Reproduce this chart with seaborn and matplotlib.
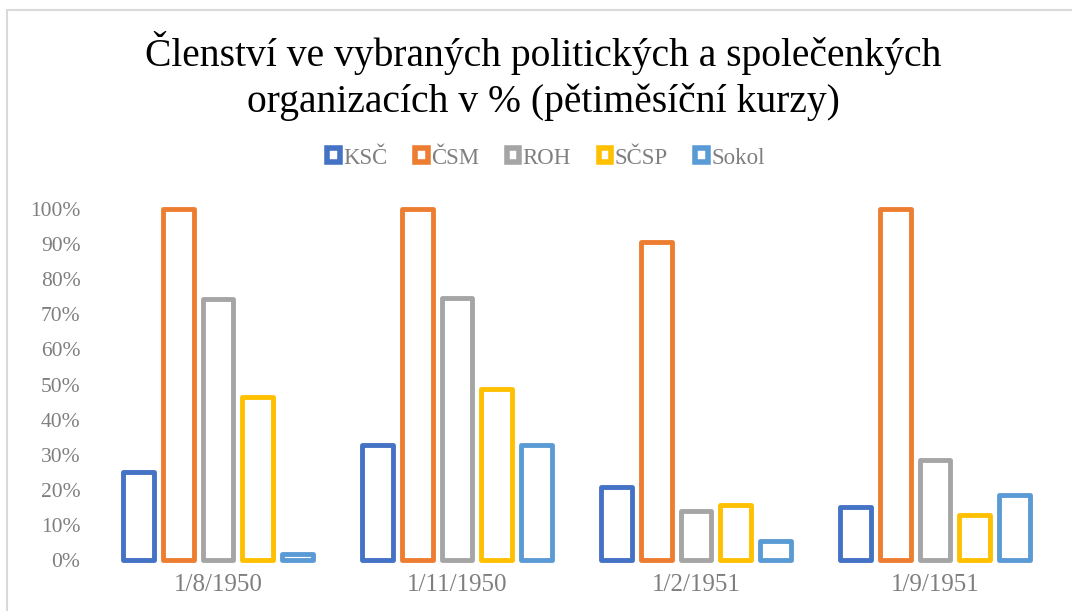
import matplotlib
matplotlib.use("Agg")
import matplotlib.pyplot as plt
import matplotlib.patches as mpatches
import seaborn as sns
import pandas as pd
from matplotlib.ticker import PercentFormatter

dates = ["1/8/1950", "1/11/1950", "1/2/1951", "1/9/1951"]
organizations = ["KSČ", "ČSM", "ROH", "SČSP", "Sokol"]
ksc = [0.25, 0.328, 0.208, 0.151]
csm = [1.00, 1.00, 0.905, 1.00]
roh = [0.744, 0.746, 0.14, 0.286]
scsp = [0.464, 0.487, 0.157, 0.127]
sokol = [0.018, 0.328, 0.054, 0.184]
colors = ["#4472C4", "#ED7D31", "#A5A5A5", "#FFC000", "#5B9BD5"]

series = [ksc, csm, roh, scsp, sokol]
rows = []
for org, vals in zip(organizations, series):
    for d, v in zip(dates, vals):
        rows.append({"date": d, "org": org, "value": v})
df = pd.DataFrame(rows)

sns.set_theme(style="white")
plt.rcParams["font.family"] = ["Liberation Serif", "DejaVu Serif"]

fig = plt.figure(figsize=(10.72, 6.11), dpi=100)
ax = fig.add_axes([98.5 / 1072, 1 - 560 / 611, (1054.5 - 98.5) / 1072, (560 - 209) / 611])

sns.barplot(data=df, x="date", y="value", hue="org", order=dates, hue_order=organizations,
            palette=colors, fill=False, width=0.83, gap=0.22, linewidth=3.5,
            ax=ax, legend=False, err_kws={"linewidth": 0})
for p in ax.patches:
    p.set_joinstyle("round")
    p.set_facecolor("white")
    p.set_fill(True)
    p.set_clip_on(False)

ax.set_ylim(0, 1.0)
ax.set_yticks([i / 10 for i in range(11)])
ax.yaxis.set_major_formatter(PercentFormatter(1.0, decimals=0))
ax.set_xlabel("")
ax.set_ylabel("")
for s in ax.spines.values():
    s.set_visible(False)
ax.tick_params(axis="y", length=0, pad=13, labelsize=15.5, labelcolor="#7F7F7F")
ax.tick_params(axis="x", length=0, pad=10, labelsize=18, labelcolor="#7F7F7F")

fig.text(0.507, 1 - 76 / 611, "Členství ve vybraných politických a společenkých\norganizacích v % (pětiměsíční kurzy)",
         ha="center", va="center", fontsize=28.5, color="black", linespacing=1.25)

handles = [mpatches.Patch(facecolor="white", edgecolor=c, linewidth=4, label=o)
           for o, c in zip(organizations, colors)]
leg = fig.legend(handles=handles, loc="center", bbox_to_anchor=(546 / 1072, 1 - 158 / 611),
                 ncol=5, frameon=False, fontsize=16.5, handlelength=0.55, handleheight=0.55,
                 handletextpad=0.15, columnspacing=1.2)
for t in leg.get_texts():
    t.set_color("#7F7F7F")

border = mpatches.Rectangle((7 / 1072, -0.05), 1.2, 1 - 10 / 611 + 0.05, transform=fig.transFigure,
                            fill=False, edgecolor="#D9D9D9", linewidth=1.5)
fig.patches.append(border)

fig.savefig("out.png", dpi=100)
